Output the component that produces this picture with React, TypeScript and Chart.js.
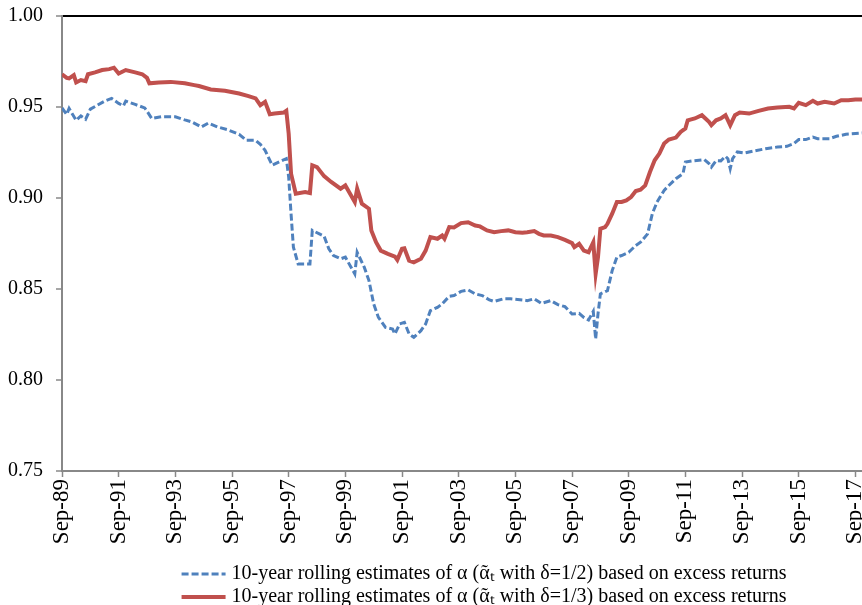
import React, { useEffect, useRef } from "react";
import { Chart, registerables } from "chart.js";

Chart.register(...registerables);

// x values are months elapsed since Sep-1989
const tickLabels = [
  "Sep-89", "Sep-91", "Sep-93", "Sep-95", "Sep-97", "Sep-99", "Sep-01", "Sep-03",
  "Sep-05", "Sep-07", "Sep-09", "Sep-11", "Sep-13", "Sep-15", "Sep-17", "Sep-19",
];

const blueMonths = [
  0, 2, 3, 6, 8, 10, 12, 15, 18, 21, 24, 26, 27, 31, 35, 36, 38, 42, 48, 52,
  55, 59, 62, 66, 70, 75, 78, 82, 84, 86, 89, 92, 95, 96, 97, 98, 100, 105, 106, 109,
  111, 113, 115, 118, 120, 124, 125, 128, 130, 132, 134, 137, 140, 141, 143, 145, 147, 149, 152, 154,
  156, 159, 161, 164, 166, 169, 172, 175, 178, 181, 183, 187, 190, 195, 197, 200, 203, 207, 210, 213,
  216, 219, 221, 223, 225, 226, 227, 228, 231, 233, 235, 237, 240, 243, 245, 248, 250, 252, 255, 257,
  260, 263, 264, 267, 272, 274, 275, 277, 279, 281, 282, 283, 284, 286, 289, 293, 298, 303, 307, 310,
  312, 315, 318, 320, 325, 328, 332, 336, 339,
];
const blueValues = [
  0.9495, 0.9459, 0.9492, 0.9427, 0.9451, 0.9433, 0.9488, 0.951, 0.9532, 0.9547, 0.952, 0.9506, 0.9532, 0.9514, 0.9495, 0.9477, 0.9437, 0.9446, 0.9446, 0.9429,
  0.9418, 0.939, 0.9412, 0.939, 0.9376, 0.935, 0.9317, 0.9317, 0.9295, 0.9262, 0.918, 0.9198, 0.9216, 0.9115, 0.8914, 0.873, 0.8638, 0.8638, 0.8822, 0.8803,
  0.879, 0.8721, 0.8684, 0.8666, 0.8675, 0.8583, 0.8702, 0.862, 0.8546, 0.8418, 0.8344, 0.8289, 0.828, 0.8253, 0.8308, 0.8317, 0.8253, 0.8234, 0.8271, 0.8308,
  0.8381, 0.8399, 0.8418, 0.846, 0.8464, 0.8487, 0.8495, 0.8473, 0.8464, 0.844, 0.8432, 0.8446, 0.8446, 0.844, 0.8436, 0.8446, 0.8421, 0.8436, 0.8414, 0.8403,
  0.8363, 0.8366, 0.8344, 0.833, 0.8377, 0.8225, 0.8363, 0.8473, 0.8491, 0.8601, 0.8675, 0.8684, 0.8702, 0.8739, 0.8757, 0.8803, 0.8914, 0.8978, 0.9042, 0.9069,
  0.9106, 0.9134, 0.9198, 0.9204, 0.9211, 0.9189, 0.917, 0.9205, 0.9204, 0.9229, 0.9216, 0.9161, 0.9216, 0.9253, 0.9247, 0.9258, 0.9271, 0.928, 0.9284, 0.9299,
  0.9321, 0.9321, 0.9335, 0.9326, 0.9326, 0.9339, 0.935, 0.9354, 0.9357,
];

const redMonths = [
  0, 2, 3, 5, 6, 8, 10, 11, 14, 17, 20, 22, 24, 27, 31, 34, 36, 37, 41, 46,
  52, 56, 58, 63, 69, 75, 79, 82, 84, 86, 88, 90, 94, 95, 96, 97, 99, 103, 105, 106,
  108, 111, 114, 118, 120, 122, 124, 125, 127, 130, 131, 133, 135, 138, 141, 142, 144, 145, 147, 149,
  152, 154, 156, 159, 161, 162, 164, 166, 169, 172, 175, 177, 180, 183, 186, 189, 192, 195, 197, 200,
  202, 204, 207, 210, 213, 216, 217, 219, 221, 223, 225, 226, 227, 228, 230, 231, 233, 235, 237, 239,
  241, 243, 245, 247, 249, 251, 253, 255, 257, 260, 262, 264, 265, 268, 271, 274, 275, 277, 279, 281,
  283, 285, 287, 291, 295, 299, 303, 308, 310, 312, 315, 318, 320, 323, 327, 330, 333, 336, 339,
];
const redValues = [
  0.968, 0.966, 0.9657, 0.9675, 0.9635, 0.9648, 0.9642, 0.968, 0.969, 0.9703, 0.9708, 0.9716, 0.9684, 0.9703, 0.969, 0.968, 0.966, 0.963, 0.9635, 0.9638,
  0.963, 0.962, 0.9615, 0.9596, 0.9589, 0.9574, 0.956, 0.9547, 0.951, 0.9528, 0.946, 0.9464, 0.947, 0.9479, 0.9354, 0.9134, 0.9024, 0.9033, 0.9027, 0.918,
  0.917, 0.912, 0.9088, 0.9051, 0.9069, 0.9024, 0.8978, 0.9051, 0.8969, 0.8941, 0.8822, 0.8757, 0.8711, 0.8693, 0.8678, 0.866, 0.8721, 0.8724, 0.8656, 0.8647,
  0.8666, 0.8711, 0.8785, 0.8776, 0.8794, 0.8776, 0.884, 0.8838, 0.8862, 0.8867, 0.8849, 0.8844, 0.8822, 0.8812, 0.8818, 0.8822, 0.8812, 0.8809, 0.8812, 0.8818,
  0.8803, 0.8794, 0.8794, 0.8785, 0.877, 0.8752, 0.873, 0.8748, 0.8711, 0.8702, 0.8757, 0.8583, 0.8675, 0.8831, 0.884, 0.8858, 0.8914, 0.8978, 0.8978, 0.8987,
  0.9005, 0.9038, 0.9046, 0.9069, 0.9143, 0.9207, 0.9244, 0.9299, 0.9321, 0.9332, 0.9363, 0.9382, 0.9427, 0.9437, 0.9455, 0.9418, 0.94, 0.9427, 0.9437, 0.9455,
  0.94, 0.9455, 0.947, 0.9464, 0.9479, 0.9492, 0.9497, 0.9501, 0.9492, 0.9523, 0.951, 0.9534, 0.9519, 0.9528, 0.9519, 0.9537, 0.9537, 0.9541, 0.9541,
];

const blueLabel = "10-year rolling estimates of \u03b1 (\u1fb6\u209c with \u03b4=1/2) based on excess returns";
const redLabel = "10-year rolling estimates of \u03b1 (\u1fb6\u209c with \u03b4=1/3) based on excess returns";

const FONT = "'Liberation Serif', 'Times New Roman', serif";
const BLUE = "#4F81BD";
const RED = "#C0504D";
const BLUE_DASH = [7, 3];

// redraws the legend samples so the dashed series shows its dash pattern
const legendSamplePlugin = {
  id: "legendSamples",
  afterDraw(chart: any) {
    const legend = chart.legend;
    if (!legend || !legend.legendHitBoxes) return;
    const ctx = chart.ctx;
    legend.legendItems.forEach((item: any, i: number) => {
      const hb = legend.legendHitBoxes[i];
      if (!hb) return;
      const ds = chart.data.datasets[item.datasetIndex];
      const w = 44;
      const x0 = hb.left + 4;
      const cy = hb.top + hb.height / 2;
      ctx.save();
      ctx.fillStyle = "#fff";
      ctx.fillRect(hb.left - 2, hb.top, w + 8, hb.height);
      ctx.strokeStyle = ds.borderColor;
      ctx.lineWidth = ds.borderWidth;
      ctx.setLineDash(ds.borderDash || []);
      ctx.beginPath();
      ctx.moveTo(x0, cy);
      ctx.lineTo(x0 + w, cy);
      ctx.stroke();
      ctx.restore();
    });
  },
};

export default function App() {
  const ref = useRef<HTMLCanvasElement | null>(null);

  useEffect(() => {
    if (!ref.current) return;
    const chart = new Chart(ref.current, {
      type: "line",
      data: {
        datasets: [
          {
            label: blueLabel,
            data: blueMonths.map((m, i) => ({ x: m, y: blueValues[i] })),
            borderColor: BLUE,
            backgroundColor: BLUE,
            borderWidth: 3,
            borderDash: BLUE_DASH,
            pointRadius: 0,
            tension: 0,
          },
          {
            label: redLabel,
            data: redMonths.map((m, i) => ({ x: m, y: redValues[i] })),
            borderColor: RED,
            backgroundColor: RED,
            borderWidth: 4,
            pointRadius: 0,
            tension: 0,
          },
        ],
      },
      options: {
        animation: false,
        responsive: false,
        devicePixelRatio: 1,
        layout: { padding: { left: 0, right: 0, top: 16, bottom: 3 } },
        plugins: {
          tooltip: { enabled: false },
          legend: {
            position: "bottom",
            labels: {
              usePointStyle: true,
              pointStyle: "line",
              pointStyleWidth: 44,
              padding: 3,
              color: "#000",
              font: { family: FONT, size: 20 },
            },
          },
        },
        scales: {
          x: {
            type: "linear",
            min: 0,
            max: 382,
            afterFit: (scale: any) => {
              scale.height = 90;
            },
            ticks: {
              stepSize: 24,
              includeBounds: false,
              autoSkip: false,
              maxRotation: 90,
              minRotation: 90,
              padding: 2,
              color: "#000",
              font: { family: FONT, size: 23 },
              callback: (v: any) => {
                const i = Math.round(Number(v) / 24);
                return Number(v) % 24 === 0 ? tickLabels[i] ?? "" : "";
              },
            },
            grid: {
              drawOnChartArea: false,
              tickLength: 6,
              tickColor: "#888",
              tickWidth: 1.5,
            },
            border: { color: "#888", width: 2 },
          },
          y: {
            min: 0.75,
            max: 1.0,
            afterFit: (scale: any) => {
              scale.width = 62;
              scale.paddingTop = 0;
              scale.paddingBottom = 0;
            },
            ticks: {
              stepSize: 0.05,
              padding: 13,
              color: "#000",
              font: { family: FONT, size: 20 },
              callback: (v: any) => Number(v).toFixed(2),
            },
            grid: {
              color: (ctx: any) => (ctx.tick && Math.abs(ctx.tick.value - 1) < 1e-6 ? "#000" : "rgba(0,0,0,0)"),
              lineWidth: 2,
              tickLength: 6,
              tickColor: "#888",
              tickWidth: 1.5,
            },
            border: { color: "#888", width: 2 },
          },
        },
      },
      plugins: [legendSamplePlugin],
    });
    return () => chart.destroy();
  }, []);

  return (
    <div style={{ position: "absolute", left: 0, top: 0, width: 862, height: 605, overflow: "hidden", background: "#fff" }}>
      <canvas ref={ref} width={964} height={620} style={{ width: 964, height: 620, display: "block" }} />
    </div>
  );
}
